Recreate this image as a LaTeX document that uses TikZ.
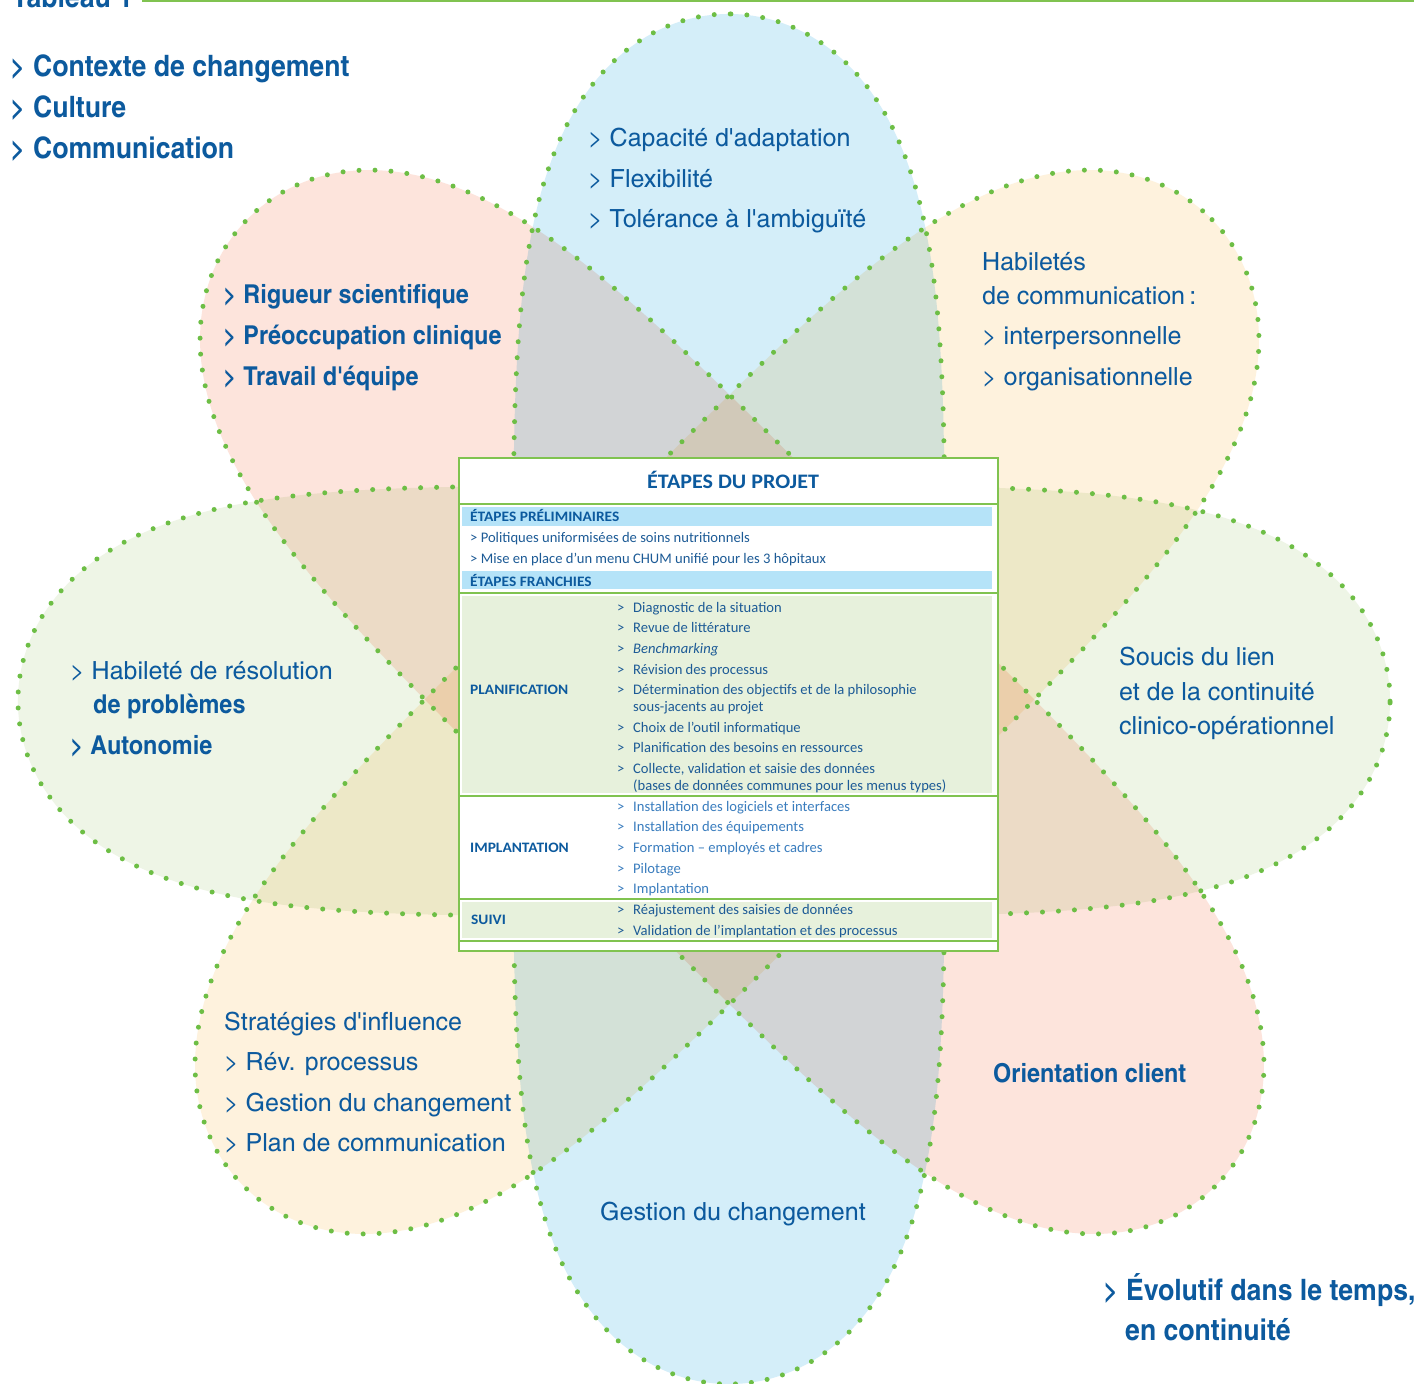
\documentclass[tikz,border=0pt]{standalone}
\usepackage{fontspec}
\setmainfont{Carlito}
\newfontfamily\condfont{texgyreheroscn}[Extension=.otf, UprightFont=*-regular, BoldFont=*-bold,
  UprightFeatures={FakeStretch=1.22}, BoldFeatures={FakeStretch=1.1}]
\newfontfamily\boxfont{Carlito}[BoldFeatures={FakeStretch=1.07}]
\definecolor{textblue}{HTML}{0C5A9E}
\definecolor{itemblue}{HTML}{1D5B96}
\definecolor{lightitem}{HTML}{3A7DBE}
\definecolor{dotgreen}{HTML}{6DBE45}
\definecolor{boxgreen}{HTML}{80C350}
\definecolor{lobeblue}{HTML}{D4EEF9}
\definecolor{lobepink}{HTML}{FDE4DC}
\definecolor{lobeyellow}{HTML}{FEF2DD}
\definecolor{lobegreen}{HTML}{EEF5E6}
\definecolor{barblue}{HTML}{B5E3F8}
\definecolor{panelgreen}{HTML}{E7F1DC}
% elongated lobe: |x/a|^4.68 + |y/b|^2 = 1 (flat sides, round ends)
\newcommand\lobecurve[2]{plot[domain=0.5:360.5,samples=361,variable=\t]
  ({#1*cos(\t)/abs(cos(\t))*pow(abs(cos(\t)),0.427)},{#2*sin(\t)}) -- cycle}
\begin{document}
\begin{tikzpicture}[x=1pt,y=-1pt,
  dotline/.style={draw=dotgreen, line width=5pt, line cap=round, dash pattern=on 0pt off 16pt},
  ptxt/.style={font=\condfont\fontsize{25}{30}\selectfont, text=textblue, anchor=base west, inner sep=0pt},
  pbold/.style={font=\condfont\bfseries\fontsize{26}{30}\selectfont, text=textblue, anchor=base west, inner sep=0pt},
  headtxt/.style={font=\condfont\bfseries\fontsize{29.5}{34}\selectfont, text=textblue, anchor=base west, inner sep=0pt},
  bhead/.style={font=\boxfont\bfseries\fontsize{14.4}{16}\selectfont, text=textblue, anchor=base west, inner sep=0pt},
  bitem/.style={font=\boxfont\fontsize{14.6}{16}\selectfont, text=itemblue, anchor=base west, inner sep=0pt},
  litem/.style={font=\boxfont\fontsize{14.6}{16}\selectfont, text=lightitem, anchor=base west, inner sep=0pt},
  rule/.style={draw=boxgreen, line width=2pt}]
\useasboundingbox (0,0) rectangle (1414,1384);
\fill[white] (0,0) rectangle (1414,1384);

% caption strip at the top
\node[headtxt] (tab) at (12,7) {Tableau 1};
\draw[boxgreen, line width=2.5pt] (142,1) -- (1414,1);

% the four overlapping lobes
\begin{scope}[blend group=multiply]
  \fill[lobegreen, shift={(704,701)}] \lobecurve{686}{215};
  \fill[lobeblue, shift={(729,699)}, rotate=90] \lobecurve{685}{216};
  \fill[lobepink, shift={(732,702)}, rotate=-45] \lobecurve{684}{216};
  \fill[lobeyellow, shift={(727,702)}, rotate=45] \lobecurve{684}{216};
\end{scope}
\path[dotline, shift={(704,701)}] \lobecurve{686}{215};
\path[dotline, shift={(729,699)}, rotate=90] \lobecurve{685}{216};
\path[dotline, shift={(732,702)}, rotate=-45] \lobecurve{684}{216};
\path[dotline, shift={(727,702)}, rotate=45] \lobecurve{684}{216};

% headings outside the flower
\node[headtxt] (h1) at (10,76) {> Contexte de changement};
\node[headtxt] (h2) at (10,117) {> Culture};
\node[headtxt] (h3) at (10,158) {> Communication};
\node[headtxt] (e1) at (1103,1300) {> Évolutif dans le temps,};
\node[headtxt] (e2) at (1125,1340) {en continuité};

% lobe texts
\node[ptxt] (b1) at (588,146) {> Capacité d'adaptation};
\node[ptxt] (b2) at (588,187) {> Flexibilité};
\node[ptxt] (b3) at (588,227) {> Tolérance à l'ambiguïté};
\node[pbold] (r1) at (223,303) {> Rigueur scientifique};
\node[pbold] (r2) at (223,344) {> Préoccupation clinique};
\node[pbold] (r3) at (223,385) {> Travail d'équipe};
\node[ptxt] (y1) at (982,270) {Habiletés};
\node[ptxt] (y2) at (982,304) {de communication\,:};
\node[ptxt] (y3) at (982,344) {> interpersonnelle};
\node[ptxt] (y4) at (982,385) {> organisationnelle};
\node[ptxt] (g1) at (70,679) {> Habileté de résolution};
\node[pbold] (g2) at (93,713) {de problèmes};
\node[pbold] (g3) at (70,754) {> Autonomie};
\node[ptxt] (s1) at (1119,665) {Soucis du lien};
\node[ptxt] (s2) at (1119,700) {et de la continuité};
\node[ptxt] (s3) at (1119,734) {clinico-opérationnel};
\node[ptxt] (i1) at (224,1030) {Stratégies d'influence};
\node[ptxt] (i2) at (224,1070) {> Rév. processus};
\node[ptxt] (i3) at (224,1111) {> Gestion du changement};
\node[ptxt] (i4) at (224,1151) {> Plan de communication};
\node[pbold] (oc) at (993,1082) {Orientation client};
\node[ptxt] (gc) at (600,1220) {Gestion du changement};

% central table of project steps
\node[draw=boxgreen, line width=2pt, fill=white, anchor=north west, inner sep=0pt,
      minimum width=539pt, minimum height=493pt] (box) at (458,457) {};
\fill[barblue] (462,507) rectangle (992,526);
\fill[barblue] (462,571) rectangle (992,589);
\fill[panelgreen] (462,596) rectangle (992,793);
\fill[panelgreen] (462,902) rectangle (992,938);
\draw[rule] (458,504) -- (997,504);
\draw[rule] (458,593) -- (997,593);
\draw[rule] (458,796) -- (997,796);
\draw[rule] (458,899) -- (997,899);
\draw[rule] (458,941) -- (997,941);

\node[font=\boxfont\bfseries\fontsize{20.6}{24}\selectfont, text=textblue] (title) at (733,480) {ÉTAPES DU PROJET};
\node[bhead] (pre) at (470,521.5) {ÉTAPES PRÉLIMINAIRES};
\node[bitem] (pre1) at (470,542) {> Politiques uniformisées de soins nutritionnels};
\node[bitem] (pre2) at (470,563) {> Mise en place d’un menu CHUM unifié pour les 3 hôpitaux};
\node[bhead] (fra) at (470,586.5) {ÉTAPES FRANCHIES};

\node[bhead] (plan) at (470,694) {PLANIFICATION};
\node[bitem] (p1) at (617,612) {\makebox[16pt][l]{>}Diagnostic de la situation};
\node[bitem] (p2) at (617,632) {\makebox[16pt][l]{>}Revue de littérature};
\node[bitem] (p3) at (617,653) {\makebox[16pt][l]{>}\textit{Benchmarking}};
\node[bitem] (p4) at (617,674) {\makebox[16pt][l]{>}Révision des processus};
\node[bitem] (p5) at (617,694) {\makebox[16pt][l]{>}Détermination des objectifs et de la philosophie};
\node[bitem] (p5b) at (633,711) {sous-jacents au projet};
\node[bitem] (p6) at (617,732) {\makebox[16pt][l]{>}Choix de l’outil informatique};
\node[bitem] (p7) at (617,752) {\makebox[16pt][l]{>}Planification des besoins en ressources};
\node[bitem] (p8) at (617,773) {\makebox[16pt][l]{>}Collecte, validation et saisie des données};
\node[bitem] (p8b) at (633,790) {(bases de données communes pour les menus types)};

\node[bhead] (impl) at (470,852) {IMPLANTATION};
\node[litem] (m1) at (617,811) {\makebox[16pt][l]{>}Installation des logiciels et interfaces};
\node[litem] (m2) at (617,831) {\makebox[16pt][l]{>}Installation des équipements};
\node[litem] (m3) at (617,852) {\makebox[16pt][l]{>}Formation – employés et cadres};
\node[litem] (m4) at (617,873) {\makebox[16pt][l]{>}Pilotage};
\node[litem] (m5) at (617,893) {\makebox[16pt][l]{>}Implantation};

\node[bhead] (suivi) at (471,924) {SUIVI};
\node[bitem] (u1) at (617,914) {\makebox[16pt][l]{>}Réajustement des saisies de données};
\node[bitem] (u2) at (617,935) {\makebox[16pt][l]{>}Validation de l’implantation et des processus};
\end{tikzpicture}
\end{document}
